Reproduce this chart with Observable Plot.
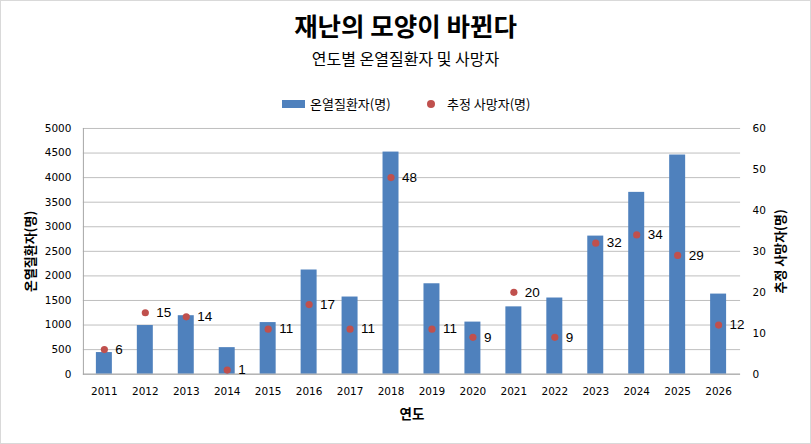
<!DOCTYPE html>
<html><head><meta charset="utf-8">
<script src="https://cdn.jsdelivr.net/npm/d3@7"></script>
<script src="https://cdn.jsdelivr.net/npm/@observablehq/plot@0.6"></script>
<style>
html,body{margin:0;padding:0;background:#fff;}
#wrap{position:relative;width:809px;height:442px;border:1px solid #d9d9d9;overflow:hidden;font-family:"Noto Sans CJK KR",sans-serif;}
#title{position:absolute;left:0;width:809px;top:6px;text-align:center;font-size:25.5px;font-weight:bold;line-height:36px;color:#000;}
#subtitle{position:absolute;left:0;width:809px;top:46px;text-align:center;font-size:16px;line-height:22px;color:#000;}
#legend{position:absolute;top:93px;left:0;width:809px;height:20px;font-size:13px;line-height:20px;color:#000;}
.sw{position:absolute;}
#chart{position:absolute;left:-1px;top:114px;}
</style></head>
<body><div id="wrap">
<div id="title">재난의 모양이 바뀐다</div>
<div id="subtitle">연도별 온열질환자 및 사망자</div>
<div id="legend">
<span class="sw" style="left:281px;top:6px;width:23px;height:8px;background:#4F81BD"></span>
<span class="sw" style="left:309px;top:0">온열질환자(명)</span>
<span class="sw" style="left:426px;top:6px;width:8px;height:8px;border-radius:50%;background:#C0504D"></span>
<span class="sw" style="left:446px;top:0">추정 사망자(명)</span>
</div>
<div id="chart"></div>
</div>
<script>
const years = ["2011","2012","2013","2014","2015","2016","2017","2018","2019","2020","2021","2022","2023","2024","2025","2026"];
const patients = [440, 990, 1190, 540, 1050, 2120, 1570, 4520, 1840, 1060, 1370, 1550, 2810, 3700, 4460, 1630];
const deaths = [6, 15, 14, 1, 11, 17, 11, 48, 11, 9, 20, 9, 32, 34, 29, 12];
const leftTicks = [0,500,1000,1500,2000,2500,3000,3500,4000,4500,5000];
const rightTicks = [0,10,20,30,40,50,60];

const k = 5000/60;
const rows = years.map((y,i)=>({year:y, patients:patients[i], deaths:deaths[i], dScaled:deaths[i]*k}));

const chart = Plot.plot({
  width: 811, height: 329,
  marginLeft: 83, marginRight: 70, marginTop: 13, marginBottom: 70,
  style: {fontFamily: "DejaVu Sans, sans-serif", fontSize: "10.5px", color: "#000", background: "transparent"},
  x: {domain: years, paddingInner: 0.6, paddingOuter: 0.3},
  y: {domain: [0,5000]},
  marks: [
    Plot.gridY(leftTicks, {stroke: "#BFBFBF", strokeOpacity: 1}),
    Plot.barY(rows, {x: "year", y: "patients", fill: "#4F81BD"}),
    Plot.ruleY([0], {stroke: "#A6A6A6"}),
    Plot.frame({anchor: "left", stroke: "#A6A6A6"}),
    Plot.dot(rows, {x: "year", y: "dScaled", r: 3.6, fill: "#C0504D", stroke: "none"}),
    Plot.text(rows, {x: "year", y: "dScaled", text: d=>String(d.deaths), dx: 11, textAnchor: "start", fontFamily: "Liberation Sans, Arial, sans-serif", fontSize: 13.5, fill: "#000"}),
    Plot.axisX({tickSize: 0, tickPadding: 13, label: null, fill: "#000"}),
    Plot.axisY(leftTicks, {anchor: "left", tickSize: 0, tickPadding: 12, label: null, tickFormat: d=>String(d), fill: "#000"}),
    Plot.axisY(rightTicks.map(t=>t*k), {anchor: "right", tickSize: 0, tickPadding: 12, label: null, tickFormat: d=>String(Math.round(d/k)), fill: "#000"}),
    Plot.text(["온열질환자(명)"], {frameAnchor: "left", dx: -53, rotate: -90, textAnchor: "middle", lineAnchor: "middle", fontSize: 13, fontWeight: "bold", fontFamily: "Noto Sans CJK KR, sans-serif", fill: "#000"}),
    Plot.text(["추정 사망자(명)"], {frameAnchor: "right", dx: 40, rotate: -90, textAnchor: "middle", lineAnchor: "middle", fontSize: 13, fontWeight: "bold", fontFamily: "Noto Sans CJK KR, sans-serif", fill: "#000"}),
    Plot.text(["연도"], {frameAnchor: "bottom", dy: 41, textAnchor: "middle", lineAnchor: "middle", fontSize: 13.5, fontWeight: "bold", fontFamily: "Noto Sans CJK KR, sans-serif", fill: "#000"})
  ]
});
document.getElementById("chart").appendChild(chart);
</script>
</body></html>
